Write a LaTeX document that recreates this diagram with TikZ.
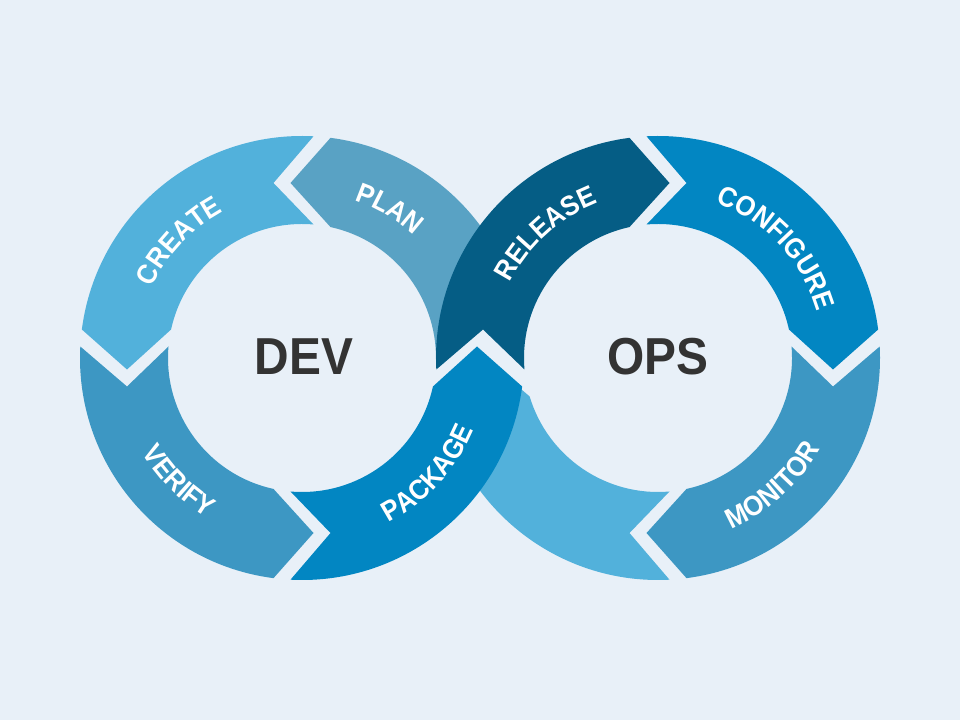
\documentclass[tikz,border=0pt]{standalone}
\usepackage{fontspec}
\newfontfamily\rob[FakeStretch=0.92]{Liberation Sans}
\usetikzlibrary{calc,decorations.text}
\definecolor{bg}{HTML}{E8F0F8}
\definecolor{cLight}{HTML}{52B1DB}
\definecolor{cPlan}{HTML}{59A2C4}
\definecolor{cMid}{HTML}{3D97C3}
\definecolor{cStrong}{HTML}{0286C2}
\definecolor{cDark}{HTML}{055D85}
\definecolor{cText}{HTML}{333333}
% #1 centre, #2 start angle, #3 end angle, #4 flow sign, #5 colour, #6 extra start shift, #7 extra end shift
\newcommand{\ringseg}[7]{%
  \pgfmathsetmacro{\aone}{#2+#4*asin((-20+8.5+#6)/222)}%
  \pgfmathsetmacro{\bone}{#2+#4*asin((-20+8.5+#6)/134)}%
  \pgfmathsetmacro{\ntau}{20+8.5+#6}%
  \pgfmathsetmacro{\nperp}{#2+#4*90}%
  \pgfmathsetmacro{\atwo}{#3+#4*asin((-20-8.5-#7)/222)}%
  \pgfmathsetmacro{\btwo}{#3+#4*asin((-20-8.5-#7)/134)}%
  \pgfmathsetmacro{\xtau}{20-8.5-#7}%
  \pgfmathsetmacro{\xperp}{#3+#4*90}%
  \fill[#5] ($(#1)+(\aone:222)$) arc[start angle=\aone, end angle=\atwo, radius=222]
    -- ($(#1)+(#3:175)+(\xperp:\xtau)$)
    -- ($(#1)+(\btwo:134)$) arc[start angle=\btwo, end angle=\bone, radius=134]
    -- ($(#1)+(#2:175)+(\nperp:\ntau)$) -- cycle;
}
\newcommand{\lblfont}{\rob\bfseries\fontsize{28}{28}\selectfont}
% labels on the upper half (read clockwise, tops outward)
\newcommand{\toplabel}[3]{%
  \pgfmathsetmacro{\la}{#2+50}\pgfmathsetmacro{\lb}{#2-50}%
  \path[decorate,decoration={text along path,text={|\lblfont|#3},text align=center,text color=white}]
    ($(#1)+(\la:166)$) arc[start angle=\la, end angle=\lb, radius=166];
}
% labels on the lower half (read counter-clockwise, tops inward)
\newcommand{\botlabel}[3]{%
  \pgfmathsetmacro{\la}{#2-50}\pgfmathsetmacro{\lb}{#2+50}%
  \path[decorate,decoration={text along path,text={|\lblfont|#3},text align=center,text color=white}]
    ($(#1)+(\la:186)$) arc[start angle=\la, end angle=\lb, radius=186];
}
\begin{document}
\begin{tikzpicture}[x=1pt,y=1pt,
  bigword/.style={font=\rob\bfseries\fontsize{52}{52}\selectfont, text=cText, inner sep=0pt}]
\useasboundingbox (0,0) rectangle (960,720);
\fill[bg] (0,0) rectangle (960,720);
\coordinate (L) at (302,362);
\coordinate (R) at (658,362);
% hidden segments first
\ringseg{L}{0}{90}{1}{cPlan}{10}{0}
\ringseg{R}{-90}{-180}{-1}{cLight}{0}{10}
% left ring
\ringseg{L}{90}{180}{1}{cLight}{0}{0}
\ringseg{L}{180}{270}{1}{cMid}{0}{0}
\ringseg{L}{270}{360}{1}{cStrong}{0}{0}
% right ring
\ringseg{R}{180}{90}{-1}{cDark}{0}{0}
\ringseg{R}{90}{0}{-1}{cStrong}{0}{0}
\ringseg{R}{0}{-90}{-1}{cMid}{0}{0}
% labels
\toplabel{L}{136.5}{CREATE}
\toplabel{L}{59.6}{PLAN}
\botlabel{L}{225}{VERIFY}
\botlabel{L}{-42.5}{PACKAGE}
\toplabel{R}{132}{RELEASE}
\toplabel{R}{43}{CONFIGURE}
\botlabel{R}{-48}{MONITOR}
\node[bigword] (dev) at (304,363) {DEV};
\node[bigword] (ops) at (658,363) {OPS};
\end{tikzpicture}
\end{document}
